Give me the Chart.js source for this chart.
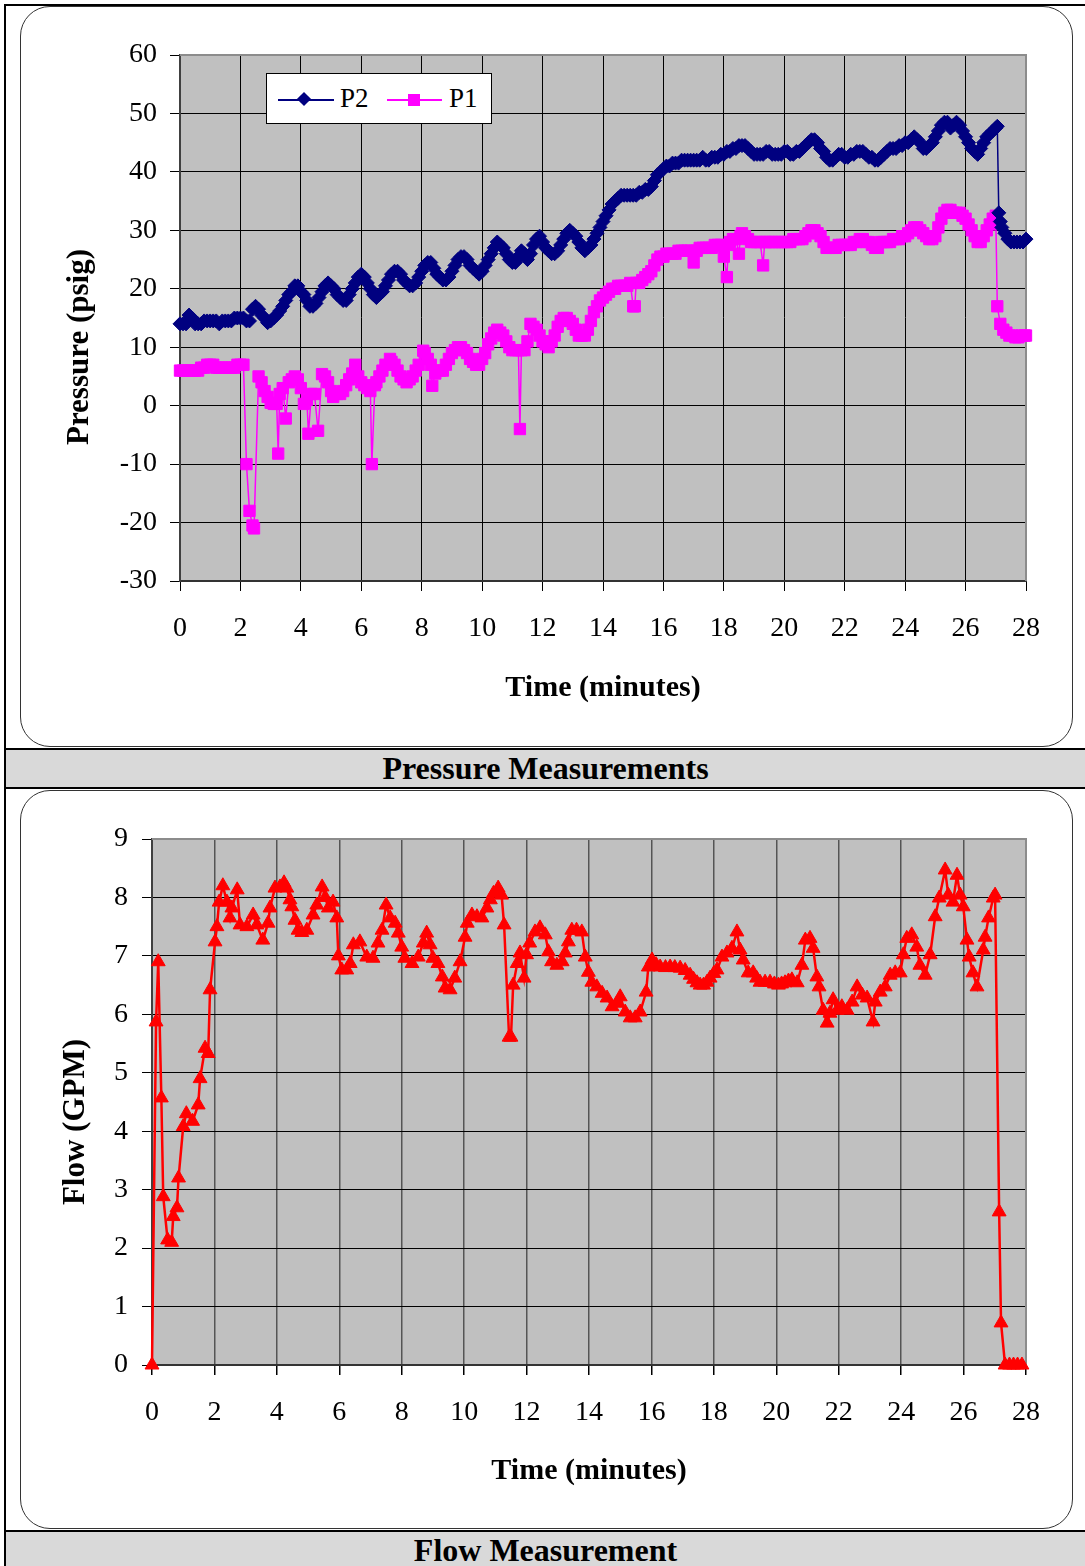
<!DOCTYPE html>
<html><head><meta charset="utf-8">
<script src="https://cdn.jsdelivr.net/npm/chart.js@4.4.0/dist/chart.umd.min.js"></script>
<style>
html,body{margin:0;padding:0;background:#fff;}
body{width:1085px;height:1566px;position:relative;overflow:hidden;font-family:"Liberation Serif","Times New Roman",serif;color:#000;}
#frame{position:absolute;left:4px;top:4px;width:1085px;height:1570px;border-left:2px solid #000;border-top:2px solid #000;}
.box{position:absolute;left:20px;width:1051px;border:1.5px solid #333;border-radius:30px;background:#fff;}
.cap{position:absolute;left:6px;width:1079px;background:#d9d9d9;border-top:2px solid #000;border-bottom:2px solid #000;text-align:center;font-weight:bold;font-size:32px;line-height:36px;}
canvas{position:absolute;left:0;}
.ytitle{position:absolute;width:400px;height:36px;text-align:center;font-weight:bold;font-size:31px;line-height:36px;transform:rotate(-90deg);transform-origin:50% 50%;white-space:nowrap;}
#legend{position:absolute;left:266px;top:73px;width:224px;height:49px;border:1px solid #000;background:#fff;}
#legend .ln{position:absolute;height:2px;top:25px;}
#legend .tx{position:absolute;top:9px;font-size:27px;line-height:30px;}
</style>
</head><body>
<div id="frame"></div>
<div class="box" style="top:6px;height:739px;"></div>
<div class="cap" style="top:748px;height:37px;">Pressure Measurements</div>
<div class="box" style="top:790px;height:737px;"></div>
<div class="cap" style="top:1530px;height:40px;">Flow Measurement</div>
<canvas id="c1" width="1085" height="748" style="top:0;"></canvas>
<canvas id="c2" width="1085" height="741" style="top:789px;"></canvas>
<div class="ytitle" style="left:-122px;top:329px;">Pressure (psig)</div>
<div class="ytitle" style="left:-126px;top:1104px;">Flow (GPM)</div>
<div id="legend">
  <div class="ln" style="left:11px;width:56px;background:#000080;"></div>
  <div style="position:absolute;left:32px;top:20px;width:10px;height:10px;background:#000080;transform:rotate(45deg);"></div>
  <div class="tx" style="left:73px;">P2</div>
  <div class="ln" style="left:120px;width:55px;background:#ff00ff;"></div>
  <div style="position:absolute;left:141px;top:20px;width:12px;height:12px;background:#ff00ff;"></div>
  <div class="tx" style="left:182px;">P1</div>
</div>
<script>
const timeTicks=[0,2,4,6,8,10,12,14,16,18,20,22,24,26,28];
const pressureTicks=[-30,-20,-10,0,10,20,30,40,50,60];
const flowTicks=[0,1,2,3,4,5,6,7,8,9];

// P2 readings (minutes / psig)
const p2Time=[
0,0.1,0.2,0.3,0.4,0.5,0.6,0.7,0.8,0.9,
1,1.1,1.2,1.3,1.4,1.5,1.6,1.7,1.8,1.9,
2,2.1,2.2,2.3,2.4,2.5,2.6,2.7,2.8,2.9,
3,3.1,3.2,3.3,3.4,3.5,3.6,3.7,3.8,3.9,
4,4.1,4.2,4.3,4.4,4.5,4.6,4.7,4.8,4.9,
5,5.1,5.2,5.3,5.4,5.5,5.6,5.7,5.8,5.9,
6,6.1,6.2,6.3,6.4,6.5,6.6,6.7,6.8,6.9,
7,7.1,7.2,7.3,7.4,7.5,7.6,7.7,7.8,7.9,
8,8.1,8.2,8.3,8.4,8.5,8.6,8.7,8.8,8.9,
9,9.1,9.2,9.3,9.4,9.5,9.6,9.7,9.8,9.9,
10,10.1,10.2,10.3,10.4,10.5,10.6,10.7,10.8,10.9,
11,11.1,11.2,11.3,11.4,11.5,11.6,11.7,11.8,11.9,
12,12.1,12.2,12.3,12.4,12.5,12.6,12.7,12.8,12.9,
13,13.1,13.2,13.3,13.4,13.5,13.6,13.7,13.8,13.9,
14,14.1,14.2,14.3,14.4,14.5,14.6,14.7,14.8,14.9,
15,15.1,15.2,15.3,15.4,15.5,15.6,15.7,15.8,15.9,
16,16.1,16.2,16.3,16.4,16.5,16.6,16.7,16.8,16.9,
17,17.1,17.2,17.3,17.4,17.5,17.6,17.7,17.8,17.9,
18,18.1,18.2,18.3,18.4,18.5,18.6,18.7,18.8,18.9,
19,19.1,19.2,19.3,19.4,19.5,19.6,19.7,19.8,19.9,
20,20.1,20.2,20.3,20.4,20.5,20.6,20.7,20.8,20.9,
21,21.1,21.2,21.3,21.4,21.5,21.6,21.7,21.8,21.9,
22,22.1,22.2,22.3,22.4,22.5,22.6,22.7,22.8,22.9,
23,23.1,23.2,23.3,23.4,23.5,23.6,23.7,23.8,23.9,
24,24.1,24.2,24.3,24.4,24.5,24.6,24.7,24.8,24.9,
25,25.1,25.2,25.3,25.4,25.5,25.6,25.7,25.8,25.9,
26,26.1,26.2,26.3,26.4,26.5,26.6,26.7,26.8,26.9,
27,27.05,27.1,27.15,27.2,27.3,27.4,27.5,27.6,27.7,27.8,27.9,28];
const p2Psig=[
14,14,14,15.5,15,14,14,14,14.5,14.5,
14.5,14.5,14.5,14,14.5,14.5,14.5,14.5,15,15,
15,15,14.5,14.5,16.5,17,16.5,15.5,15,14.2,
14.5,15,15.5,16.2,17,18,19,19.5,20.5,20.5,
19.5,19,18,17,17,17.5,18.5,19.5,20.5,21,
20.5,20,19,18.5,18,18,19,20,21,22,
22.5,22,21,20,19,18.5,19,19.5,20.5,21.5,
22.5,23,23,22.5,21.5,21,20.5,20.5,21,22,
23,24,24.5,24.5,23.5,22.5,22,21.5,21.5,22,
23,24,25,25.5,25.5,25,24,23.5,23,22.5,
23,24,25,26,27,28,27.5,27,26,25,
24.5,24.5,25.5,26.5,26,25,26,27.5,28.5,29,
28,27,26.5,26,26,26.5,27.5,28.5,29.5,30,
29.5,29,28,27,26.5,27,27.5,28.5,29.5,30.5,
31.5,32.5,33.5,34.5,35,35.5,36,36,36,36,
36,36,36.5,36.5,37,37,37.5,38.5,39.5,40,
40.5,41,41,41.5,41.5,41.5,42,42,42,42,
42,42,42,42.5,42,42,42.5,42.5,42.5,43,
43,43.5,43.5,44,44,44.5,44.5,44.5,44,43.5,
43,43,43,43,43.5,43.5,43,43,43,43,
43.5,43.5,43,43,43.5,43.5,44,44.5,45,45.5,
45.5,45,44,43.5,42.5,42,42,42.5,43,43,
42.5,42.5,43,43,43.5,43.5,43.5,43,42.5,42.5,
42,42,42.5,43,43.5,44,44,44,44.5,44.5,
45,45,45.5,46,45.5,45,44,44,44.5,45,
46,47,48,48.5,48.5,47.5,48,48.5,48,47,
46,45,44,43.5,43,44,45,46,46.5,47,
47.5,47.8,33,31.5,30.5,29.5,28.5,28,28,28,28,28,28.5];

// P1 readings (minutes / psig)
const p1Time=[
0,0.1,0.2,0.3,0.4,0.5,0.6,0.7,0.8,0.9,
1,1.1,1.2,1.3,1.4,1.5,1.6,1.7,1.8,1.9,
2,2.1,2.2,2.3,2.4,2.45,2.6,2.7,2.8,2.9,
3,3.1,3.2,3.25,3.3,3.4,3.5,3.6,3.7,3.8,3.9,
4,4.1,4.2,4.25,4.35,4.45,4.57,4.7,4.8,4.9,
5,5.07,5.2,5.3,5.4,5.5,5.6,5.7,5.8,5.9,
6,6.1,6.2,6.3,6.35,6.45,6.5,6.6,6.7,6.8,6.95,
7,7.1,7.2,7.3,7.4,7.5,7.6,7.7,7.8,7.9,
8.05,8.1,8.2,8.3,8.35,8.45,8.5,8.6,8.7,8.8,8.9,
9,9.1,9.2,9.3,9.4,9.5,9.6,9.7,9.8,9.9,
10,10.1,10.2,10.3,10.4,10.5,10.6,10.7,10.8,10.9,
11,11.1,11.2,11.25,11.3,11.4,11.5,11.6,11.7,11.8,11.9,
12,12.1,12.2,12.3,12.4,12.5,12.6,12.7,12.8,12.9,
13,13.1,13.2,13.3,13.4,13.5,13.6,13.7,13.8,13.9,
14,14.1,14.2,14.3,14.4,14.5,14.6,14.7,14.8,14.9,
15,15.05,15.1,15.2,15.3,15.4,15.5,15.6,15.7,15.8,15.9,
16,16.1,16.2,16.3,16.4,16.5,16.6,16.7,16.8,16.9,
17,17.05,17.1,17.2,17.3,17.4,17.5,17.6,17.7,17.8,17.9,
18,18.1,18.15,18.2,18.3,18.4,18.5,18.55,18.6,18.7,18.8,18.9,
19,19.1,19.2,19.3,19.35,19.4,19.5,19.6,19.7,19.8,19.9,
20,20.1,20.2,20.3,20.4,20.5,20.6,20.7,20.8,20.9,
21,21.1,21.2,21.3,21.4,21.5,21.6,21.7,21.8,21.9,
22,22.1,22.2,22.3,22.4,22.5,22.6,22.7,22.8,22.9,
23,23.1,23.2,23.3,23.4,23.5,23.6,23.7,23.8,23.9,
24,24.1,24.2,24.3,24.4,24.5,24.6,24.7,24.8,24.9,
25,25.1,25.2,25.3,25.4,25.5,25.6,25.7,25.8,25.9,
26,26.1,26.2,26.3,26.4,26.5,26.6,26.7,26.8,26.9,
27,27.05,27.15,27.25,27.35,27.45,27.55,27.65,27.75,27.85,27.95,28];
const p1Psig=[
6,6,6,6,6,6,6,6.5,6.5,7,
7,7,6.5,6.5,6.5,6.5,6.5,6.5,6.5,7,
7,7,-10,-18,-20.5,-21,5,4,2.5,1.5,
0.5,0.3,0.3,-8.2,2,3,-2.2,4,4.5,5,4.5,
3,0.3,1,-4.8,2,2,-4.3,5.4,5,4,
2.5,1.5,2,2,2.5,3.5,4.5,5.5,7,5,
4,3.5,3,2.5,-10,3.5,4,5,6,7,8,
7.5,7,6,5,4.5,4,4.5,5,6,7,
9.4,9,8,7,3.4,5.5,6,6,6,7,8,
9,9.5,10,10,9.5,9,8,7.5,7,7,
8,9,10.5,11.5,12.5,13,12.5,12,11,10,
9.5,9.5,9.5,-4,9.5,9.5,11,14,13.5,13,12,
11,10.5,10,11,12,13.5,14.5,15,15,14.5,
14,13,12,12,12,13,14.5,16,17,18,
18.5,19,19.5,20,20,20.5,20.5,20.5,20.5,21,
17,17,21,21,21.5,22,22.5,23,24,25,25.5,
25.5,26,26,26,26,26.5,26.5,26.5,26.5,26.5,
24.5,26.5,26.5,27,27,27,27,27,27.5,27.5,27.5,
25.5,22,27.5,28,28.5,28.5,26,29,29.5,29,28.5,28,
28,28,28,24,28,28,28,28,28,28,28,
28,28,28,28.5,28.5,28.5,28.5,29,29.5,30,
30,29.5,29,28,27,27,27,27,27.5,27.5,
27.5,27.5,27.5,28,28,28.5,28.5,28,28,27.5,
27,27,28,28,28,28,28.5,28.5,28.5,29,
29,29.5,30,30.5,30.5,30,29.5,29,28.5,28.5,
29,30.5,32,33,33.5,33.5,33,33,33,32.5,
32,31,30,29,28,28,29,30,31,32,
32.5,17,14,13,12.5,12,12,11.7,11.7,12,12,12];

// Flow readings (minutes / GPM)
const flowTime=[0,0.13,0.2,0.3,0.36,0.5,0.63,0.68,0.8,0.85,
1.0,1.1,1.3,1.48,1.54,1.7,1.8,1.86,2.02,2.08,
2.15,2.27,2.4,2.5,2.56,2.73,2.82,3.04,3.24,3.36,
3.55,3.72,3.78,3.94,4.1,4.23,4.32,4.42,4.48,4.58,
4.68,4.8,4.96,5.16,5.28,5.45,5.55,5.65,5.8,5.92,
5.97,6.08,6.24,6.35,6.45,6.66,6.88,7.08,7.24,7.37,
7.5,7.63,7.79,7.89,8.0,8.1,8.33,8.53,8.69,8.8,
8.91,9.0,9.16,9.3,9.39,9.55,9.7,9.87,10.03,10.1,
10.25,10.41,10.57,10.73,10.84,10.94,11.09,11.2,11.28,11.44,
11.5,11.57,11.7,11.79,11.92,12.0,12.1,12.27,12.43,12.6,
12.7,12.8,12.97,13.14,13.24,13.34,13.45,13.6,13.77,13.88,
13.98,14.09,14.25,14.42,14.58,14.74,14.9,15.0,15.16,15.32,
15.48,15.64,15.83,15.9,16.02,16.15,16.28,16.45,16.6,16.75,
16.92,17.08,17.24,17.35,17.46,17.56,17.67,17.78,17.88,18.0,
18.1,18.26,18.42,18.58,18.74,18.84,18.94,19.1,19.26,19.37,
19.48,19.64,19.8,19.94,20.07,20.17,20.28,20.39,20.5,20.67,
20.82,20.93,21.08,21.18,21.3,21.37,21.5,21.63,21.72,21.82,
21.95,22.1,22.27,22.43,22.59,22.75,22.91,23.1,23.17,23.33,
23.49,23.65,23.81,23.97,24.07,24.18,24.34,24.5,24.6,24.77,
24.93,25.09,25.22,25.41,25.51,25.66,25.79,25.89,25.99,26.11,
26.18,26.3,26.43,26.63,26.69,26.8,26.95,27.01,27.14,27.2,
27.33,27.47,27.6,27.73,27.87];
const flowGpm=[0,5.87,6.9,4.57,2.88,2.14,2.1,2.54,2.69,3.2,
4.08,4.3,4.17,4.45,4.9,5.42,5.33,6.42,7.24,7.5,
7.92,8.2,7.92,7.65,7.82,8.13,7.53,7.5,7.7,7.53,
7.27,7.56,7.82,8.16,8.18,8.25,8.16,7.96,7.84,7.61,
7.44,7.4,7.44,7.7,7.87,8.18,8.0,7.82,7.92,7.65,
7.0,6.76,6.76,6.87,7.19,7.24,6.98,6.96,7.22,7.44,
7.87,7.65,7.56,7.39,7.15,6.96,6.87,6.98,7.22,7.39,
7.19,6.96,6.87,6.64,6.45,6.42,6.62,6.9,7.32,7.56,
7.7,7.67,7.65,7.82,7.96,8.07,8.16,8.04,7.53,5.61,
5.61,6.5,6.87,7.05,6.62,7.02,7.22,7.41,7.48,7.36,
7.07,6.9,6.84,6.9,7.05,7.24,7.44,7.44,7.41,6.98,
6.72,6.55,6.47,6.36,6.28,6.13,6.19,6.3,6.04,5.94,
5.94,6.04,6.38,6.81,6.93,6.85,6.81,6.8,6.81,6.8,
6.79,6.75,6.67,6.6,6.54,6.5,6.5,6.55,6.62,6.7,
6.76,6.98,7.05,7.13,7.41,7.1,6.93,6.71,6.71,6.62,
6.55,6.55,6.55,6.52,6.5,6.52,6.54,6.57,6.59,6.54,
6.84,7.27,7.3,7.13,6.64,6.47,6.07,5.85,6.02,6.25,
6.07,6.13,6.07,6.21,6.47,6.33,6.28,5.87,6.21,6.38,
6.47,6.67,6.71,6.71,7.02,7.3,7.36,7.15,6.84,6.67,
7.02,7.67,7.99,8.47,8.04,7.92,8.38,8.04,7.84,7.27,
6.98,6.71,6.47,7.1,7.32,7.65,7.99,8.04,2.62,0.72,
0,0,0,0,0];

const F='"Liberation Serif","Times New Roman",serif';
function pts(t,v){const n=Math.min(t.length,v.length),o=[];for(let i=0;i<n;i++)o.push({x:t[i],y:v[i]});return o;}

const plotFrame={id:'plotFrame',
  beforeDraw(c){const a=c.chartArea,x=c.ctx;x.save();x.fillStyle='#c0c0c0';x.fillRect(a.left,a.top,a.right-a.left,a.bottom-a.top);x.restore();},
  beforeDatasetsDraw(c){const a=c.chartArea,x=c.ctx;x.save();x.strokeStyle='#8c8c8c';x.lineWidth=2;x.beginPath();x.moveTo(a.left,a.top);x.lineTo(a.right,a.top);x.lineTo(a.right,a.bottom);x.stroke();x.restore();}
};

function makeOptions(o){
  return {
    responsive:false,animation:false,events:[],
    layout:{padding:{left:0,top:o.padTop,right:59,bottom:0}},
    plugins:{legend:{display:false},tooltip:{enabled:false}},
    scales:{
      x:{type:'linear',min:0,max:28,
        afterBuildTicks:s=>{s.ticks=timeTicks.map(v=>({value:v}));},
        ticks:{color:'#000',font:{family:F,size:28},padding:21,maxRotation:0,autoSkip:false,callback:v=>String(v)},
        grid:{color:o.xGrid,lineWidth:o.xGridW,tickLength:10,tickColor:'#000'},
        border:{display:true,color:'#333',width:2},
        title:{display:true,text:'Time (minutes)',color:'#000',font:{family:F,size:30,weight:'bold'},padding:{top:0,bottom:o.xTitlePad}},
        afterFit:s=>{s.height=o.xHeight;}
      },
      y:{type:'linear',min:o.yMin,max:o.yMax,
        afterBuildTicks:s=>{s.ticks=o.yTicks.map(v=>({value:v}));},
        ticks:{color:'#000',font:{family:F,size:28},padding:o.yTickPad,autoSkip:false,callback:v=>String(v)},
        grid:{color:'#000',lineWidth:1,tickLength:10,tickColor:'#000'},
        border:{display:true,color:'#404040',width:2},
        title:{display:false},
        afterFit:s=>{s.width=o.yWidth;}
      }
    }
  };
}

new Chart(document.getElementById('c1'),{
  type:'line',
  data:{datasets:[
    {label:'P2',data:pts(p2Time,p2Psig),borderColor:'#000080',backgroundColor:'#000080',borderWidth:1.5,pointStyle:'rectRot',pointRadius:7,pointBorderWidth:1,tension:0,clip:false},
    {label:'P1',data:pts(p1Time,p1Psig),borderColor:'#ff00ff',backgroundColor:'#ff00ff',borderWidth:1.5,pointStyle:'rect',pointRadius:8,pointBorderWidth:1,tension:0,clip:false}
  ]},
  options:makeOptions({padTop:55,yMin:-30,yMax:60,yTicks:pressureTicks,yWidth:180,xHeight:167,xTitlePad:42,yTickPad:13,xGrid:'#000',xGridW:1}),
  plugins:[plotFrame]
});

new Chart(document.getElementById('c2'),{
  type:'line',
  data:{datasets:[
    {label:'Flow',data:pts(flowTime,flowGpm),borderColor:'#ff0000',backgroundColor:'#ff0000',borderWidth:2.5,pointStyle:'triangle',pointRadius:8,pointBorderWidth:1,tension:0,clip:false}
  ]},
  options:makeOptions({padTop:50,yMin:0,yMax:9,yTicks:flowTicks,yWidth:152,xHeight:165,xTitlePad:41,yTickPad:14,xGrid:'#555',xGridW:1.5}),
  plugins:[plotFrame]
});
</script>
</body></html>
